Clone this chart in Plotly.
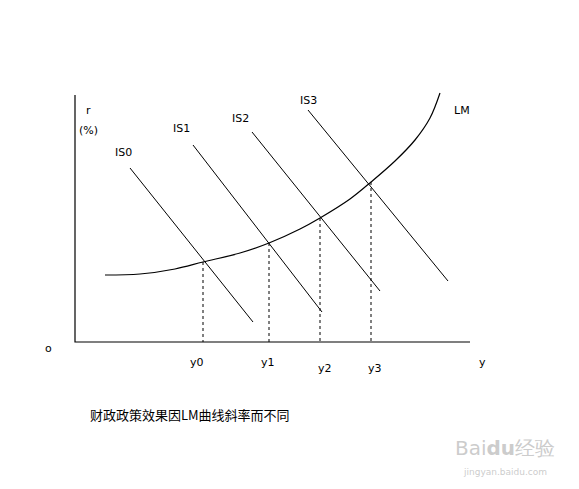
import plotly.graph_objects as go

# values in picture units (x right, y down)
axis_x = [75, 75, 470]
axis_y = [95, 342, 342]

is_names = ["IS0", "IS1", "IS2", "IS3"]
is_x = [[130, 253], [193, 322], [252, 380], [308, 448]]
is_y = [[168, 322], [145, 312], [132, 291], [110, 281]]
is_label_x = [123, 181, 240, 308]
is_label_y = [152, 128, 118, 100]

lm_x = [105, 140, 175, 203, 240, 269, 300, 320, 350, 371, 395, 415, 430, 440]
lm_y = [275, 274, 269, 262, 253, 243, 229, 218, 199, 182, 161, 140, 118, 93]

eq_names = ["y0", "y1", "y2", "y3"]
eq_x = [203, 269, 320, 371]
eq_y = [262, 243, 218, 182]
eq_label_x = [197, 268, 325, 375]
eq_label_y = [362, 362, 368, 368]

fig = go.Figure()

fig.add_trace(go.Scatter(x=axis_x, y=axis_y, mode="lines",
                         line=dict(color="black", width=1.2)))

for xs, ys in zip(is_x, is_y):
    fig.add_trace(go.Scatter(x=xs, y=ys, mode="lines",
                             line=dict(color="black", width=1)))

fig.add_trace(go.Scatter(x=lm_x, y=lm_y, mode="lines",
                         line=dict(color="black", width=1.2, shape="spline")))

for x, y in zip(eq_x, eq_y):
    fig.add_trace(go.Scatter(x=[x, x], y=[y, 342], mode="lines",
                             line=dict(color="black", width=1, dash="3px,3px")))

font = dict(family="DejaVu Sans", size=11, color="black")
texts = (
    list(zip(is_label_x, is_label_y, is_names))
    + list(zip(eq_label_x, eq_label_y, eq_names))
    + [(88, 110, "r"), (88, 130, "(%)"), (48, 348, "o"),
       (482, 362, "y"), (462, 110, "LM")]
)
for x, y, t in texts:
    fig.add_annotation(x=x, y=y, text=t, showarrow=False, font=font)

fig.add_annotation(x=190, y=414, text="财政政策效果因LM曲线斜率而不同", showarrow=False,
                   font=dict(family="Noto Sans CJK SC", size=13, color="black"))
fig.add_annotation(x=505, y=448, text="Bai<b>du</b>经验", showarrow=False,
                   font=dict(family="DejaVu Sans", size=20, color="rgba(190,190,190,0.8)"))
fig.add_annotation(x=505, y=472, text="jingyan.baidu.com", showarrow=False,
                   font=dict(family="DejaVu Sans", size=9, color="rgba(190,190,190,0.8)"))

fig.update_layout(
    width=579, height=489, showlegend=False,
    margin=dict(l=0, r=0, t=0, b=0),
    paper_bgcolor="white", plot_bgcolor="white",
)
# page body adds an 8px offset, so shift the visible window to compensate
fig.update_xaxes(range=[8, 587], visible=False)
fig.update_yaxes(range=[497, 8], visible=False)

fig.write_html("out.html")
